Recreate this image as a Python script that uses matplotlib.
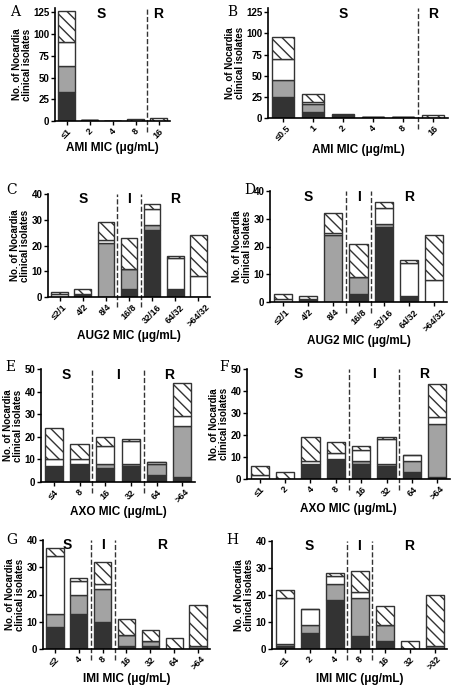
import matplotlib
matplotlib.use("Agg")
import matplotlib.pyplot as plt
import numpy as np

plt.rcParams['font.family'] = ['Liberation Sans', 'DejaVu Sans']
plt.rcParams['hatch.linewidth'] = 1.0

# segments per bar: dark, gray, white, hatched
A_labels = ["≤1", "2", "4", "8", "16"]
A_dark = [33, 1, 0, 0, 0]
A_gray = [30, 0, 0, 0, 0]
A_white = [28, 0, 0, 0, 0]
A_hatch = [36, 0, 0, 2, 3]

B_labels = ["≤0.5", "1", "2", "4", "8", "16"]
B_dark = [25, 7, 3, 1, 1, 0]
B_gray = [20, 10, 0, 0, 0, 0]
B_white = [25, 2, 0, 0, 0, 0]
B_hatch = [26, 9, 2, 0, 0, 3]

C_labels = ["≤2/1", "4/2", "8/4", "16/8", "32/16", "64/32", ">64/32"]
C_dark = [0, 1, 0, 3, 26, 3, 0]
C_gray = [0, 0, 21, 8, 2, 0, 0]
C_white = [1, 0, 1, 0, 6, 12, 8]
C_hatch = [1, 2, 7, 12, 2, 1, 16]

D_labels = ["≤2/1", "4/2", "8/4", "16/8", "32/16", "64/32", ">64/32"]
D_dark = [0, 1, 0, 3, 27, 2, 0]
D_gray = [0, 0, 24, 6, 1, 0, 0]
D_white = [1, 0, 1, 0, 6, 12, 8]
D_hatch = [2, 1, 7, 12, 2, 1, 16]

E_labels = ["≤4", "8", "16", "32", "64", ">64"]
E_dark = [7, 8, 6, 7, 3, 2]
E_gray = [0, 0, 2, 1, 5, 23]
E_white = [3, 2, 8, 10, 1, 4]
E_hatch = [14, 7, 4, 1, 0, 15]

F_labels = ["≤1", "2", "4", "8", "16", "32", "64", ">64"]
F_dark = [0, 0, 7, 9, 7, 6, 3, 1]
F_gray = [0, 0, 0, 0, 1, 1, 5, 24]
F_white = [2, 0, 1, 3, 5, 11, 3, 3]
F_hatch = [4, 3, 11, 5, 2, 1, 0, 15]

G_labels = ["≤2", "4", "8", "16", "32", "64", ">64"]
G_dark = [8, 13, 10, 1, 1, 0, 0]
G_gray = [5, 7, 12, 4, 2, 0, 1]
G_white = [21, 5, 2, 0, 0, 0, 0]
G_hatch = [3, 1, 8, 6, 4, 4, 15]

H_labels = ["≤1", "2", "4", "8", "16", "32", ">32"]
H_dark = [1, 6, 18, 5, 3, 0, 0]
H_gray = [1, 3, 6, 14, 6, 0, 1]
H_white = [17, 6, 3, 2, 0, 0, 0]
H_hatch = [3, 0, 1, 8, 7, 3, 19]

W, H = 463, 685
fig = plt.figure(figsize=(W / 100, H / 100), dpi=100)


def panel(letter, lpos, box, labels, segs, ymax, yticks, xlabel, dividers, zones):
    x0, y0, x1, y1 = box
    ax = fig.add_axes([x0 / W, 1 - y1 / H, (x1 - x0) / W, (y1 - y0) / H])
    x = np.arange(len(labels))
    bottom = np.zeros(len(labels))
    styles = [dict(color='#333333'), dict(color='#a3a3a3'),
              dict(color='white'), dict(color='white', hatch='\\\\\\')]
    for vals, st in zip(segs, styles):
        vals = np.array(vals, dtype=float)
        ax.bar(x, vals, 0.72, bottom=bottom, edgecolor='#333333',
               linewidth=1.0, **st)
        bottom += vals
    ax.set_xlim(-0.5, len(labels) - 0.5)
    ax.set_ylim(0, ymax)
    ax.set_yticks(yticks)
    ax.set_xticks(x)
    ax.set_xticklabels(labels, rotation=45, fontsize=6.5, fontweight='bold')
    for t in ax.get_yticklabels():
        t.set_fontsize(7)
        t.set_fontweight('bold')
    ax.spines['top'].set_visible(False)
    ax.spines['right'].set_visible(False)
    ax.spines['left'].set_linewidth(1.2)
    ax.spines['bottom'].set_linewidth(1.2)
    ax.tick_params(width=1.0, length=3, pad=1)
    ax.set_xlabel(xlabel, fontsize=8.5, fontweight='bold', labelpad=1)
    ax.set_ylabel("No. of Nocardia\nclinical isolates", fontsize=7,
                  fontweight='bold', labelpad=1, linespacing=1.0)
    for d in dividers:
        ax.axvline(d, color='#333333', linestyle='--', linewidth=1.0,
                   ymin=-0.1, clip_on=False)
    for zx, zt in zones:
        ax.text(zx, 0.95, zt, transform=ax.get_xaxis_transform(),
                ha='center', va='center', fontsize=10, fontweight='bold')
    fig.text(lpos[0] / W, 1 - lpos[1] / H, letter, fontsize=10,
             family='DejaVu Serif', ha='center', va='center')
    return ax


panel("A", (15, 12), (55, 8, 170, 121), A_labels,
      [A_dark, A_gray, A_white, A_hatch], 130, [0, 25, 50, 75, 100, 125],
      "AMI MIC (μg/mL)", [3.5], [(1.5, "S"), (4.0, "R")])
panel("B", (232, 12), (268, 8, 448, 118), B_labels,
      [B_dark, B_gray, B_white, B_hatch], 130, [0, 25, 50, 75, 100, 125],
      "AMI MIC (μg/mL)", [4.5], [(2.0, "S"), (5.0, "R")])
panel("C", (12, 190), (48, 194, 210, 297), C_labels,
      [C_dark, C_gray, C_white, C_hatch], 40, [0, 10, 20, 30, 40],
      "AUG2 MIC (μg/mL)", [2.5, 3.5], [(1.0, "S"), (3.0, "I"), (5.0, "R")])
panel("D", (250, 190), (270, 191, 447, 302), D_labels,
      [D_dark, D_gray, D_white, D_hatch], 40, [0, 10, 20, 30, 40],
      "AUG2 MIC (μg/mL)", [2.5, 3.5], [(1.0, "S"), (3.0, "I"), (5.0, "R")])
panel("E", (10, 367), (41, 369, 195, 482), E_labels,
      [E_dark, E_gray, E_white, E_hatch], 50, [0, 10, 20, 30, 40, 50],
      "AXO MIC (μg/mL)", [1.5, 3.5], [(0.5, "S"), (2.5, "I"), (4.5, "R")])
panel("F", (224, 367), (247, 369, 450, 479), F_labels,
      [F_dark, F_gray, F_white, F_hatch], 50, [0, 10, 20, 30, 40, 50],
      "AXO MIC (μg/mL)", [3.5, 5.5], [(1.5, "S"), (4.5, "I"), (6.5, "R")])
panel("G", (12, 540), (43, 540, 210, 649), G_labels,
      [G_dark, G_gray, G_white, G_hatch], 40, [0, 10, 20, 30, 40],
      "IMI MIC (μg/mL)", [1.5, 2.5], [(0.5, "S"), (2.0, "I"), (4.5, "R")])
panel("H", (232, 540), (272, 541, 447, 649), H_labels,
      [H_dark, H_gray, H_white, H_hatch], 40, [0, 10, 20, 30, 40],
      "IMI MIC (μg/mL)", [2.5, 3.5], [(1.0, "S"), (3.0, "I"), (5.0, "R")])

fig.savefig("out.png", dpi=100)
